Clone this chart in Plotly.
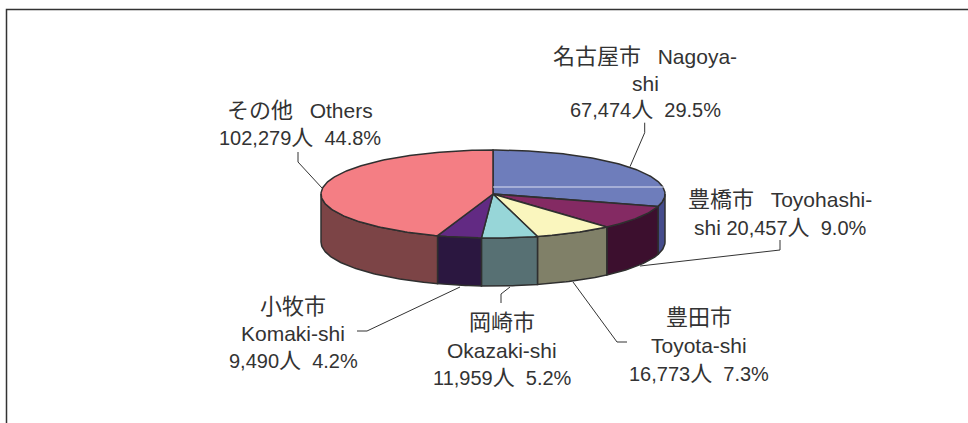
import math
import plotly.graph_objects as go

names_ja = ["名古屋市", "豊橋市", "豊田市", "岡崎市", "小牧市", "その他"]
names_en = ["Nagoya-", "Toyohashi-", "Toyota-shi", "Okazaki-shi", "Komaki-shi", "Others"]
people = [67474, 20457, 16773, 11959, 9490, 102279]
shares = ["29.5%", "9.0%", "7.3%", "5.2%", "4.2%", "44.8%"]
top_colors = ["#6E7DBB", "#842A63", "#FAF6BE", "#97D6D8", "#622A83", "#F47E84"]
side_colors = ["#454C8C", "#3C0F2E", "#808068", "#577073", "#2B1740", "#7C4446"]

CX, CY, RX, RY, DEPTH = 493, 194, 172, 44, 48
EDGE = "#2f2f2f"
TEXT = "#333333"
GAP = "&nbsp;&nbsp;&nbsp;"
NUM_GAP = "&nbsp;&nbsp;"


def px(a):
    return CX + RX * math.sin(math.radians(a))


def py(a):
    return CY - RY * math.cos(math.radians(a))


def arc(a0, a1):
    n = max(2, int(abs(a1 - a0)) + 1)
    return [a0 + (a1 - a0) * i / (n - 1) for i in range(n)]


def ja(s):
    return f'<span style="font-size:22px">{s}</span>'


def en(s):
    return f'<span style="font-size:21px">{s}</span>'


total = sum(people)
bounds = [0]
for v in people:
    bounds.append(bounds[-1] + v / total * 360)

fig = go.Figure()

# side walls
for i, v in enumerate(people):
    a0, a1 = max(bounds[i], 90), min(bounds[i + 1], 270)
    if a1 <= a0:
        continue
    pts = arc(a0, a1)
    xs = [px(a) for a in pts] + [px(a) for a in reversed(pts)] + [px(pts[0])]
    ys = [py(a) for a in pts] + [py(a) + DEPTH for a in reversed(pts)] + [py(pts[0])]
    fig.add_trace(go.Scatter(x=xs, y=ys, mode="lines", fill="toself", fillcolor=side_colors[i],
                             line=dict(color=EDGE, width=1.5), hoverinfo="skip", showlegend=False))

# top faces
for i, v in enumerate(people):
    pts = arc(bounds[i], bounds[i + 1])
    xs = [CX] + [px(a) for a in pts] + [CX]
    ys = [CY] + [py(a) for a in pts] + [CY]
    fig.add_trace(go.Scatter(x=xs, y=ys, mode="lines", fill="toself", fillcolor=top_colors[i],
                             line=dict(color=EDGE, width=1.5), hoverinfo="skip", showlegend=False))


# labels, one annotation per text line
def number(i):
    return f"{people[i]:,}{ja('人')}{NUM_GAP}{shares[i]}"


label_x = [645, 780, 699, 502, 293, 300]
label_y = [[56, 83, 109], [199, 227], [317, 345, 373], [322, 350, 377], [306, 333, 360], [110, 137]]
label_lines = [
    [f"{ja(names_ja[0])}{GAP}{en(names_en[0])}", en("shi"), number(0)],
    [f"{ja(names_ja[1])}{GAP}{en(names_en[1])}", f"{en('shi')} {number(1)}"],
    [ja(names_ja[2]), en(names_en[2]), number(2)],
    [ja(names_ja[3]), en(names_en[3]), number(3)],
    [ja(names_ja[4]), en(names_en[4]), number(4)],
    [f"{ja(names_ja[5])}{GAP}{en(names_en[5])}", number(5)],
]
for lx, ys, lines in zip(label_x, label_y, label_lines):
    for ly, txt in zip(ys, lines):
        fig.add_annotation(x=lx, y=ly, xref="x", yref="y", text=txt, showarrow=False, align="center",
                           xanchor="center", yanchor="middle",
                           font=dict(family="Liberation Sans, Noto Sans CJK JP", size=20, color=TEXT))

leaders = [
    [(644.7, 122.7), (644.7, 132.7), (630, 166.7)],
    [(780, 240), (780, 250), (640, 266)],
    [(573, 282), (617, 342), (627, 342)],
    [(510, 287), (501, 294), (501, 303)],
    [(460, 287), (367, 331), (357, 331)],
    [(298, 152), (298, 162), (322, 188)],
]
shapes = []
for pts in leaders:
    path = "M " + " L ".join(f"{x},{y}" for x, y in pts)
    shapes.append(dict(type="path", path=path, xref="x", yref="y", line=dict(color="#333333", width=1)))
# highlight line on the first slice
shapes.append(dict(type="line", xref="x", yref="y", x0=CX, x1=664, y0=187, y1=187,
                   line=dict(color="#DCE0F2", width=1)))
# frame: left and top edges only, running off the page
shapes.append(dict(type="path", path="M 6.5,423 L 6.5,9.5 L 968,9.5", xref="x", yref="y",
                   line=dict(color="#333333", width=1.5)))

fig.update_layout(
    width=968, height=423, margin=dict(l=0, r=0, t=0, b=0),
    paper_bgcolor="white", plot_bgcolor="white", showlegend=False, shapes=shapes,
    xaxis=dict(range=[0, 968], visible=False, fixedrange=True),
    yaxis=dict(range=[423, 0], visible=False, fixedrange=True),
)
fig.write_html("out.html", config={"displayModeBar": False},
               post_script="document.body.style.margin='0';document.documentElement.style.overflow='hidden';")
